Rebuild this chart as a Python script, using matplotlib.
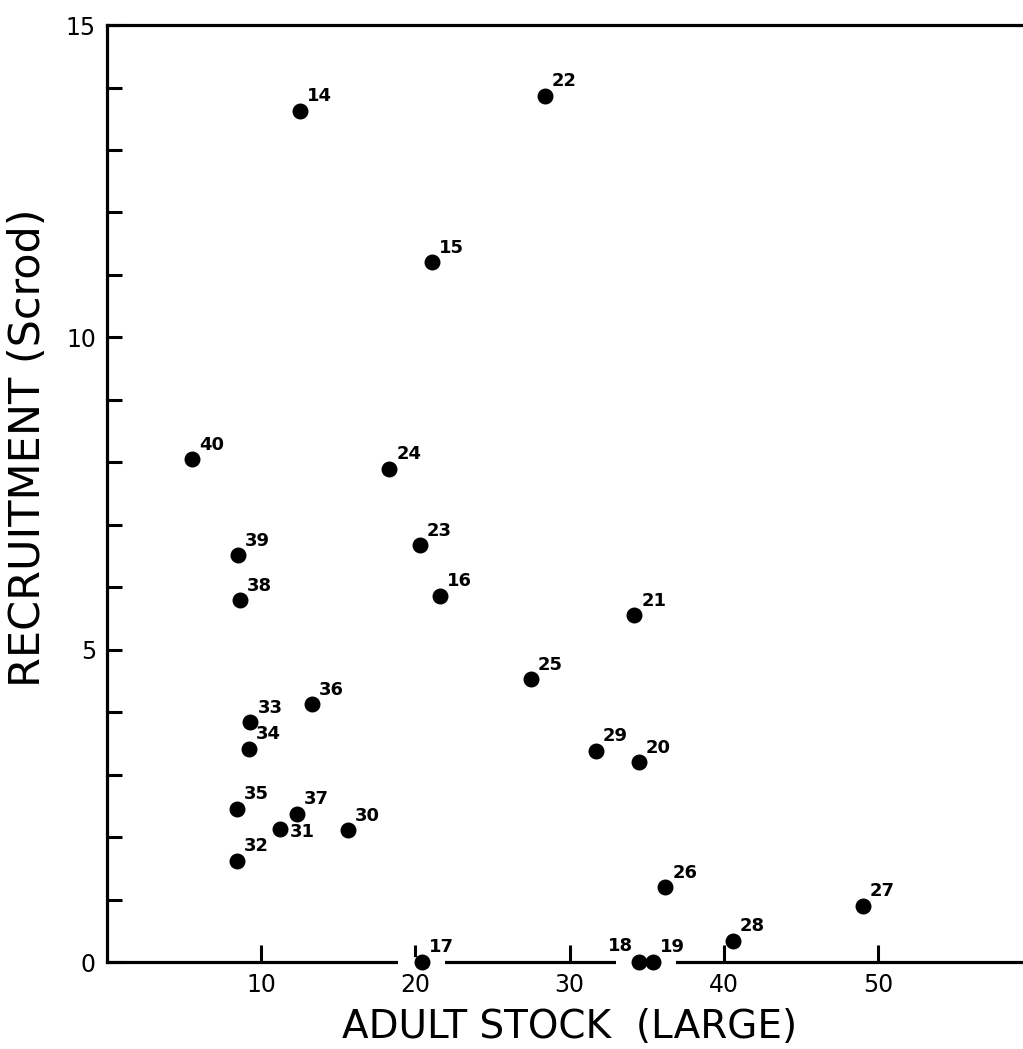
import matplotlib.pyplot as plt
import numpy as np

# year-class labels with adult stock (x) and recruitment (y)
years = [14, 15, 16, 17, 18, 19, 20, 21, 22, 23, 24, 25, 26, 27,
         28, 29, 30, 31, 32, 33, 34, 35, 36, 37, 38, 39, 40]
stock = [12.5, 21.1, 21.6, 20.4, 34.5, 35.4, 34.5, 34.2, 28.4, 20.3, 18.3, 27.5, 36.2, 49.0,
         40.6, 31.7, 15.6, 11.2, 8.4, 9.3, 9.2, 8.4, 13.3, 12.3, 8.6, 8.5, 5.5]
recruit = [13.63, 11.2, 5.86, 0.0, 0.0, 0.0, 3.2, 5.55, 13.87, 6.67, 7.9, 4.53, 1.2, 0.9,
           0.34, 3.38, 2.11, 2.13, 1.62, 3.84, 3.41, 2.45, 4.13, 2.37, 5.79, 6.51, 8.05]

# label offsets in points (most labels sit up and to the right of the dot)
offsets = {18: (-4, 5, 'right'), 31: (7, -9, 'left')}

fig = plt.figure(figsize=(10.23, 10.49), dpi=100)
ax = fig.add_axes([0.1046, 0.0829, 0.8954, 0.8932])

ax.set_xlim(0, 59.4)
ax.set_ylim(0, 15)

# the dots on the baseline break the axis line
for x, y in zip(stock, recruit):
    if y == 0:
        ax.plot([x - 1.5, x + 1.5], [0, 0], color='white', lw=7,
                solid_capstyle='butt', zorder=3, clip_on=False)

ax.scatter(stock, recruit, s=110, color='black', zorder=4, clip_on=False)

for yr, x, y in zip(years, stock, recruit):
    dx, dy, ha = offsets.get(yr, (5, 4, 'left'))
    ax.annotate(str(yr), (x, y), xytext=(dx, dy), textcoords='offset points',
                ha=ha, va='bottom', fontsize=13, fontweight='bold', zorder=5)

for side in ['left', 'bottom', 'top']:
    ax.spines[side].set_linewidth(2.3)
ax.spines['right'].set_visible(False)

ax.set_xticks([10, 20, 30, 40, 50])
ax.set_yticks([0, 5, 10, 15])
ax.set_yticks(np.arange(0, 16, 1), minor=True)
ax.tick_params(axis='both', which='both', direction='in', width=2.2, labelsize=17, pad=8)
ax.tick_params(axis='x', which='major', length=12)
ax.tick_params(axis='y', which='both', length=11)
ax.tick_params(axis='x', which='minor', bottom=False)

ax.set_xlabel('ADULT STOCK  (LARGE)', fontsize=28, va='center')
ax.xaxis.set_label_coords(0.505, -0.069)
ax.set_ylabel('RECRUITMENT (Scrod)', fontsize=31, va='center')
ax.yaxis.set_label_coords(-0.086, 0.549)

fig.savefig('out.png', dpi=100)
